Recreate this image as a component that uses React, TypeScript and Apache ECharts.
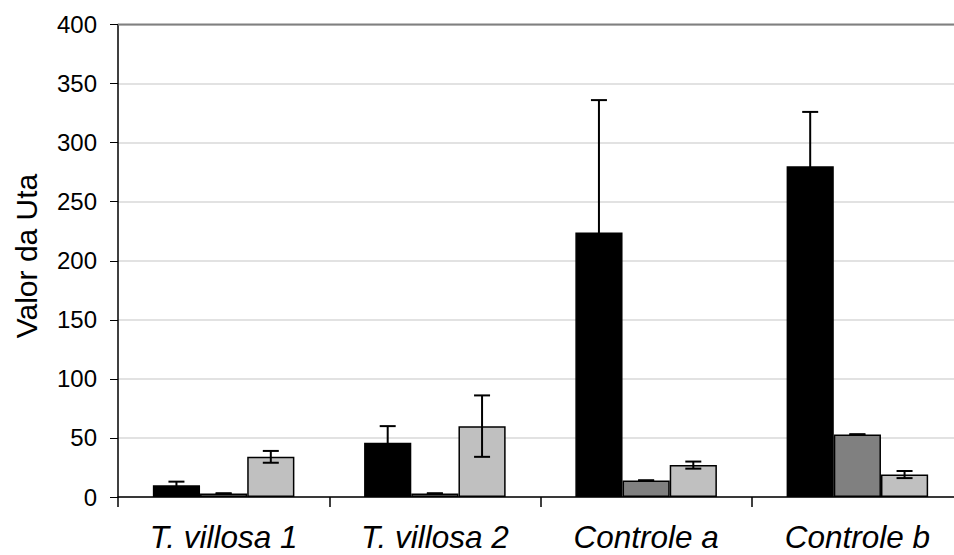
import React, { useEffect, useRef } from "react";
import * as echarts from "echarts";

// Treatments on the x axis
const categories = ["T. villosa 1", "T. villosa 2", "Controle a", "Controle b"];

// Mean values of the three measurements per treatment
const seriesBlack = [10, 46, 224, 280];
const seriesDark = [3, 3, 14, 53];
const seriesLight = [34, 60, 27, 19];

// Standard deviations (symmetric error bars)
const errBlack = [3, 14, 112, 46];
const errDark = [0, 0, 0, 0];
const errLight = [5, 26, 3, 3];

const yTicks = { min: 0, max: 400, interval: 50 };
const yAxisTitle = "Valor da Uta";

const barColors = ["#000000", "#808080", "#c0c0c0"];
const barSeries = [seriesBlack, seriesDark, seriesLight];
const errSeries = [errBlack, errDark, errLight];

const CATEGORY_GAP = 0.33;

// The chart canvas is a little wider than the visible frame, so the plot
// area runs past the right edge and gets cut off there.
const CANVAS_W = 975;
const CANVAS_H = 555;

function errorBarSeries(idx: number) {
  const values = barSeries[idx];
  const errs = errSeries[idx];
  const data = values.map((v, i) => [i, v - errs[i], v + errs[i]]);
  return {
    type: "custom",
    z: 5,
    data,
    encode: { x: 0, y: [1, 2] },
    renderItem: (params: any, api: any) => {
      const cat = api.value(0);
      const low = api.coord([cat, api.value(1)]);
      const high = api.coord([cat, api.value(2)]);
      const band = api.size([1, 0])[0];
      const barW = (band * (1 - CATEGORY_GAP)) / 3;
      const x = low[0] + (idx - 1) * barW;
      const cap = 8;
      const style = { stroke: "#000000", lineWidth: 2 };
      return {
        type: "group",
        children: [
          { type: "line", shape: { x1: x, y1: low[1], x2: x, y2: high[1] }, style },
          { type: "line", shape: { x1: x - cap, y1: high[1], x2: x + cap, y2: high[1] }, style },
          { type: "line", shape: { x1: x - cap, y1: low[1], x2: x + cap, y2: low[1] }, style },
        ],
      };
    },
  };
}

export default function App() {
  const ref = useRef<HTMLDivElement>(null);

  useEffect(() => {
    if (!ref.current) return;
    const chart = echarts.init(ref.current, null, { renderer: "svg" });
    const font = "'Liberation Sans', Arial, sans-serif";
    chart.setOption({
      animation: false,
      backgroundColor: "#ffffff",
      textStyle: { fontFamily: font },
      grid: { left: 118, right: CANVAS_W - 963, top: 24.5, bottom: CANVAS_H - 497 },
      xAxis: {
        type: "category",
        data: categories,
        axisLine: { lineStyle: { color: "#000000", width: 1.5 } },
        axisTick: { show: true, length: 10, lineStyle: { color: "#000000", width: 1.5 } },
        axisLabel: {
          color: "#000000",
          fontSize: 31.5,
          fontStyle: "italic",
          fontFamily: font,
          margin: 24,
        },
      },
      yAxis: {
        type: "value",
        min: yTicks.min,
        max: yTicks.max,
        interval: yTicks.interval,
        axisLine: { show: true, lineStyle: { color: "#000000", width: 1.5 } },
        axisTick: { show: true, length: 8, lineStyle: { color: "#000000", width: 1 } },
        axisLabel: { color: "#000000", fontSize: 24, fontFamily: font, margin: 21 },
        splitLine: { show: true, lineStyle: { color: "#d9d9d9", width: 1.5 } },
      },
      series: [
        ...barSeries.map((vals, i) => ({
          type: "bar",
          data: vals,
          barGap: "0%",
          barCategoryGap: "33%",
          itemStyle: { color: barColors[i], borderColor: "#000000", borderWidth: 1.5 },
        })),
        ...barSeries.map((_, i) => errorBarSeries(i)),
      ],
      graphic: [
        {
          type: "line",
          shape: { x1: 118, y1: 24.5, x2: 963, y2: 24.5 },
          style: { stroke: "#808080", lineWidth: 2 },
          z: 10,
        },
        {
          type: "text",
          x: 26,
          y: 256,
          rotation: Math.PI / 2,
          style: {
            text: yAxisTitle,
            fill: "#000000",
            fontSize: 30,
            fontFamily: font,
            textAlign: "center",
            textVerticalAlign: "middle",
          },
        },
      ],
    });
    return () => chart.dispose();
  }, []);

  return (
    <div style={{ position: "absolute", left: 0, top: 0, width: 954, height: 555, overflow: "hidden" }}>
      <div ref={ref} style={{ width: CANVAS_W, height: CANVAS_H }} />
    </div>
  );
}
